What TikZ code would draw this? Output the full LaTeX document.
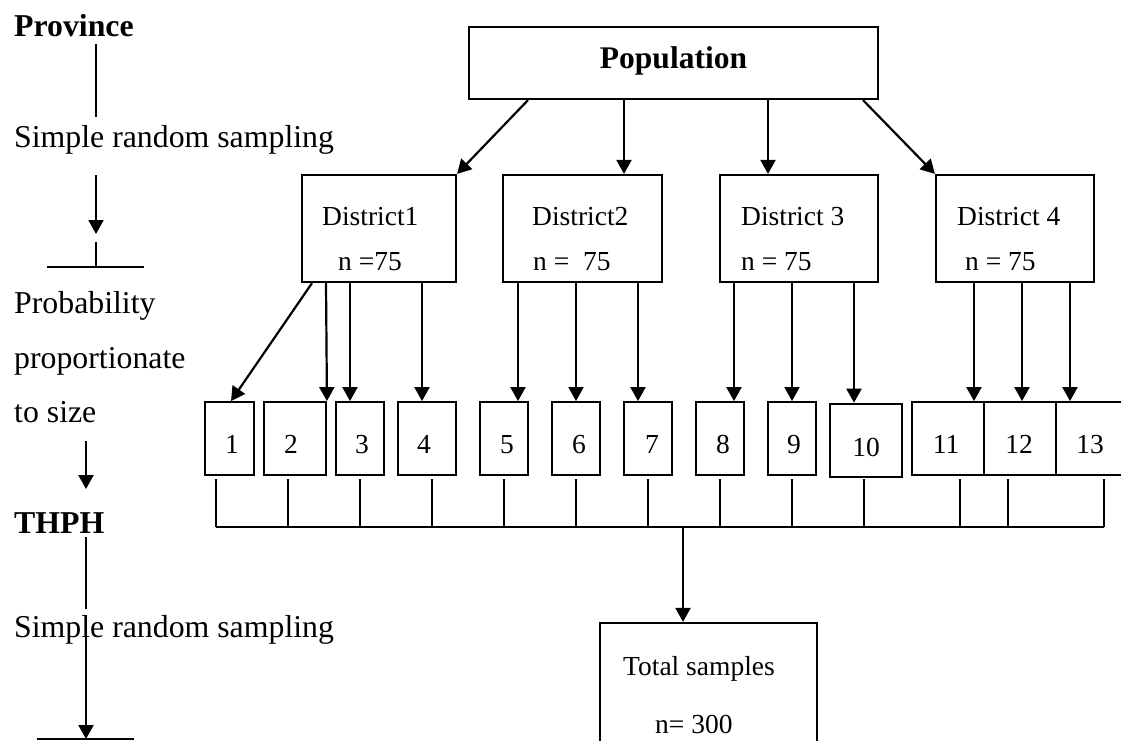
\documentclass[tikz,border=0pt]{standalone}
\usepackage{fontspec}
\setmainfont{Liberation Serif}
\usetikzlibrary{arrows.meta}
\begin{document}
\begin{tikzpicture}[x=1pt,y=-1pt,
  arr/.style={line width=2.2pt,-{Triangle[length=14pt,width=15pt]}},
  ln/.style={line width=2.2pt},
  bigbox/.style={draw,line width=2.2pt,inner sep=0pt},
  numbox/.style={draw,line width=1.9pt,inner sep=0pt,minimum height=73pt},
  side/.style={anchor=base west,inner sep=0pt,font=\fontsize{31.8}{37}\selectfont},
  sidebold/.style={side,font=\fontsize{31.8}{37}\selectfont\bfseries},
  txt/.style={anchor=base west,inner sep=0pt,font=\fontsize{27.5}{33}\selectfont},
  num/.style={anchor=base,inner sep=0pt,font=\fontsize{27.5}{33}\selectfont}]
\useasboundingbox (0,0) rectangle (1121,740);

% ---- stage column on the left ----
\node[sidebold] (prov) at (14,36) {Province};
\node[side] (srs1) at (14,147) {Simple random sampling};
\node[side] (pps1) at (14,313) {Probability};
\node[side] (pps2) at (14,368) {proportionate};
\node[side] (pps3) at (14,422) {to size};
\node[sidebold] (thph) at (14,533) {THPH};
\node[side] (srs2) at (14,637) {Simple random sampling};

\coordinate (c1) at (96,44);
\coordinate (c2) at (96,117);
\draw[ln] (c1) -- (c2);
\coordinate (c3) at (96,175);
\coordinate (c4) at (96,234);
\draw[arr] (c3) -- (c4);
\coordinate (c5) at (96,242);
\coordinate (c6) at (96,267);
\draw[ln] (c5) -- (c6);
\coordinate (h1a) at (47,267);
\coordinate (h1b) at (144,267);
\draw[ln] (h1a) -- (h1b);
\coordinate (c7) at (86,441);
\coordinate (c8) at (86,489);
\draw[arr] (c7) -- (c8);
\coordinate (c9) at (86,537);
\coordinate (c10) at (86,609);
\draw[ln] (c9) -- (c10);
\coordinate (c11) at (86,617);
\coordinate (c12) at (86,739);
\draw[arr] (c11) -- (c12);
\coordinate (h2a) at (37,739);
\coordinate (h2b) at (134,739);
\draw[ln] (h2a) -- (h2b);

% ---- population and districts ----
\node[bigbox,minimum width=409pt,minimum height=72pt] (pop) at (673.5,63) {};
\node[anchor=base,inner sep=0pt,font=\fontsize{31.5}{37}\selectfont\bfseries] (popt) at (673.5,68) {Population};

\node[bigbox,minimum width=154pt,minimum height=107pt] (d1) at (379,228.5) {};
\node[bigbox,minimum width=159pt,minimum height=107pt] (d2) at (582.5,228.5) {};
\node[bigbox,minimum width=158pt,minimum height=107pt] (d3) at (799,228.5) {};
\node[bigbox,minimum width=158pt,minimum height=107pt] (d4) at (1015,228.5) {};

\node[txt] (d1a) at (322,225) {District1};
\node[txt] (d1b) at (338,270) {n =75};
\node[txt] (d2a) at (532,225) {District2};
\node[txt] (d2b) at (533,270) {n =\ \ 75};
\node[txt] (d3a) at (741,225) {District 3};
\node[txt] (d3b) at (741,270) {n = 75};
\node[txt] (d4a) at (957,225) {District 4};
\node[txt] (d4b) at (965,270) {n = 75};

\draw[arr] (pop.south -| 528,0) -- (d1.north east);
\draw[arr] (pop.south -| 624,0) -- (d2.north -| 624,0);
\draw[arr] (pop.south -| 768,0) -- (d3.north -| 768,0);
\draw[arr] (pop.south -| 863,0) -- (d4.north west);

% ---- clusters ----
\node[numbox,minimum width=49pt] (b1) at (229.5,438.5) {};
\node[numbox,minimum width=62pt] (b2) at (295,438.5) {};
\node[numbox,minimum width=48pt] (b3) at (360,438.5) {};
\node[numbox,minimum width=58pt] (b4) at (427,438.5) {};
\node[numbox,minimum width=48pt] (b5) at (504,438.5) {};
\node[numbox,minimum width=48pt] (b6) at (576,438.5) {};
\node[numbox,minimum width=48pt] (b7) at (648,438.5) {};
\node[numbox,minimum width=48pt] (b8) at (720,438.5) {};
\node[numbox,minimum width=48pt] (b9) at (792,438.5) {};
\node[numbox,line width=2.6pt,minimum width=72pt] (b10) at (866,440.5) {};
\node[numbox,minimum width=72pt] (b11) at (948,438.5) {};
\node[numbox,minimum width=72pt] (b12) at (1020,438.5) {};
\node[numbox,minimum width=72pt] (b13) at (1092,438.5) {};

\node[num] (n1) at (232,453) {1};
\node[num] (n2) at (291,453) {2};
\node[num] (n3) at (362,453) {3};
\node[num] (n4) at (424,453) {4};
\node[num] (n5) at (507,453) {5};
\node[num] (n6) at (579,453) {6};
\node[num] (n7) at (652,453) {7};
\node[num] (n8) at (723,453) {8};
\node[num] (n9) at (794,453) {9};
\node[num] (n10) at (866,456) {10};
\node[num] (n11) at (946,453) {11};
\node[num] (n12) at (1019,453) {12};
\node[num] (n13) at (1090,453) {13};

\draw[arr] (d1.south -| 312,0) -- ([xshift=1.5pt]b1.north);
\draw[arr] (d1.south -| 326,0) -- (b2.north east);
\draw[arr] (d1.south -| 350,0) -- (b3.north -| 350,0);
\draw[arr] (d1.south -| 422,0) -- (b4.north -| 422,0);
\draw[arr] (d2.south -| 518,0) -- (b5.north -| 518,0);
\draw[arr] (d2.south -| 576,0) -- (b6.north);
\draw[arr] (d2.south -| 638,0) -- (b7.north -| 638,0);
\draw[arr] (d3.south -| 734,0) -- (b8.north -| 734,0);
\draw[arr] (d3.south -| 792,0) -- (b9.north);
\draw[arr] (d3.south -| 854,0) -- (b10.north -| 854,0);
\draw[arr] (d4.south -| 974,0) -- (b11.north -| 974,0);
\draw[arr] (d4.south -| 1022,0) -- (b12.north -| 1022,0);
\draw[arr] (d4.south -| 1070,0) -- (b13.north -| 1070,0);

% ---- collecting bar ----
\foreach \x in {216,288,360,432,504,576,648,720,792,864,960,1008,1104}
  \draw[ln] (\x,479) -- (\x,527);
\coordinate (busL) at (216,527);
\coordinate (busR) at (1104,527);
\draw[ln] (busL) -- (busR);

% ---- total ----
\node[bigbox,minimum width=217pt,minimum height=137pt] (tot) at (708.5,691.5) {};
\node[txt] (tota) at (623,675) {Total samples};
\node[txt] (totb) at (655,733) {n= 300};
\draw[arr] (busL -| 683,0) -- (tot.north -| 683,0);
\end{tikzpicture}
\end{document}
